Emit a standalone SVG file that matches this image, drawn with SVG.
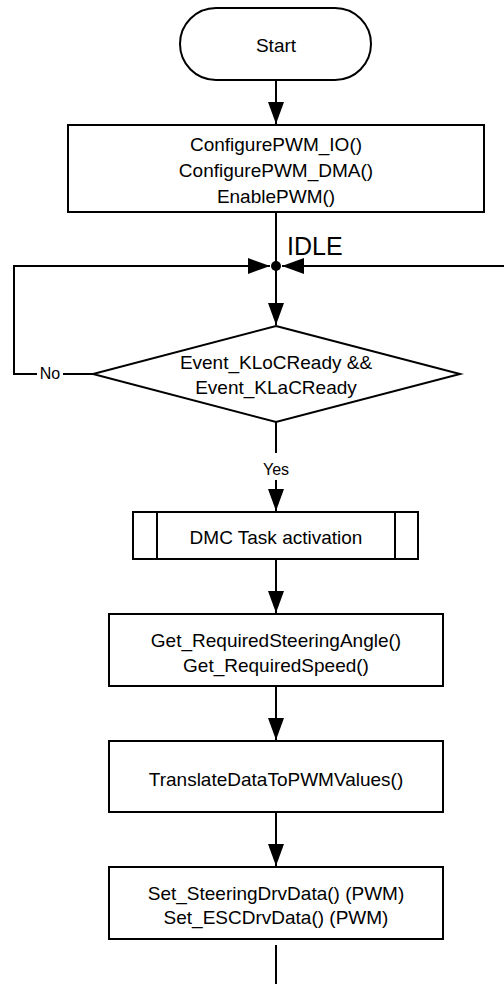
<svg xmlns="http://www.w3.org/2000/svg" width="504" height="984" viewBox="0 0 504 984">
<style>
.shape{fill:#fff;stroke:#000;stroke-width:2}
.ln{fill:none;stroke:#000;stroke-width:2}
.t{font-family:"Liberation Sans",Arial,sans-serif;font-size:19px;fill:#000;text-anchor:middle}
.s{font-size:16px}
.big{font-size:25px;text-anchor:start}
</style>
<defs>
<marker id="ah" markerWidth="24" markerHeight="18" refX="22" refY="8" orient="auto" markerUnits="userSpaceOnUse">
<path d="M0,0 L22,8 L0,16 Z" fill="#000"/>
</marker>
</defs>
<rect width="504" height="984" fill="#fff"/>
<g id="connectors">
<path class="ln" d="M276,80 V124" marker-end="url(#ah)"/>
<path class="ln" d="M276,212 V266"/>
<path class="ln" d="M276,266 V325" marker-end="url(#ah)"/>
<path class="ln" d="M93,374 H14 V266 H270" marker-end="url(#ah)"/>
<path class="ln" d="M504,266 H282" marker-end="url(#ah)"/>
<circle cx="276" cy="266" r="5" fill="#000"/>
<path class="ln" d="M276,422 V453"/>
<path class="ln" d="M276,480 V511" marker-end="url(#ah)"/>
<path class="ln" d="M276,559 V613" marker-end="url(#ah)"/>
<path class="ln" d="M276,686 V740" marker-end="url(#ah)"/>
<path class="ln" d="M276,812 V866" marker-end="url(#ah)"/>
<path class="ln" d="M276,945 V984"/>
<rect x="37" y="363" width="26" height="20" fill="#fff"/>
<text class="t s" x="50" y="379">No</text>
<text class="t s" x="276" y="475">Yes</text>
<text class="t big" x="287" y="255">IDLE</text>
</g>
<g id="start">
<rect class="shape" x="180" y="8" width="191" height="72" rx="36" ry="36"/>
<text class="t" x="276" y="52">Start</text>
</g>
<g id="configure">
<rect class="shape" x="68" y="125" width="416" height="87"/>
<text class="t" x="276" y="151">ConfigurePWM_IO()</text>
<text class="t" x="276" y="177">ConfigurePWM_DMA()</text>
<text class="t" x="276" y="203">EnablePWM()</text>
</g>
<g id="decision">
<polygon class="shape" points="276,326 460,374 276,422 93,374"/>
<text class="t" x="276" y="369">Event_KLoCReady &amp;&amp;</text>
<text class="t" x="276" y="394">Event_KLaCReady</text>
</g>
<g id="dmc">
<rect class="shape" x="133" y="512" width="285" height="47"/>
<path class="ln" d="M157,512 V559 M395,512 V559"/>
<text class="t" x="276" y="544">DMC Task activation</text>
</g>
<g id="getdata">
<rect class="shape" x="109" y="614" width="334" height="72"/>
<text class="t" x="276" y="647">Get_RequiredSteeringAngle()</text>
<text class="t" x="276" y="672">Get_RequiredSpeed()</text>
</g>
<g id="translate">
<rect class="shape" x="109" y="741" width="334" height="71"/>
<text class="t" x="276" y="786">TranslateDataToPWMValues()</text>
</g>
<g id="setdata">
<rect class="shape" x="109" y="867" width="334" height="72"/>
<text class="t" x="276" y="900">Set_SteeringDrvData() (PWM)</text>
<text class="t" x="276" y="924">Set_ESCDrvData() (PWM)</text>
</g>
</svg>
